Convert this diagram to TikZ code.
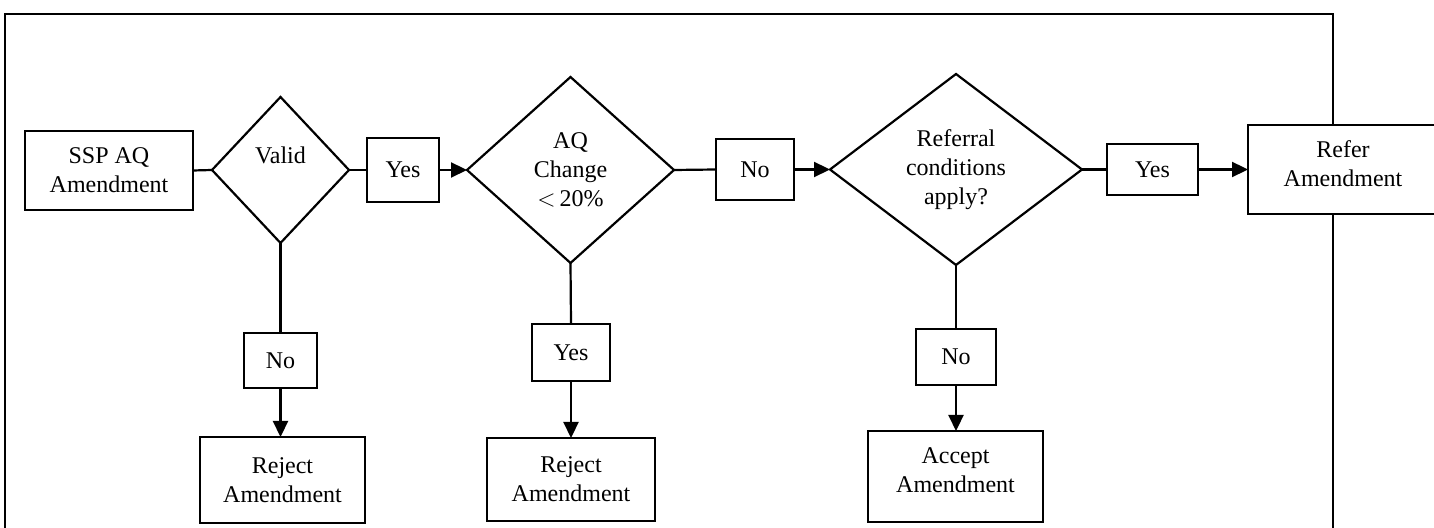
\documentclass[tikz,border=0pt]{standalone}
\usepackage{fontspec}
\setmainfont{Liberation Serif}
\usetikzlibrary{shapes.geometric,arrows.meta}
\tikzset{
  flow/.style={line width=1.1pt},
  arrow/.style={flow,-{Triangle[length=8pt,width=7.5pt]}},
  box/.style={draw,line width=1.1pt,fill=white,align=center,inner sep=0pt,outer sep=0pt},
  decision/.style={diamond,draw,line width=1.1pt,fill=white,align=center,inner sep=0pt,outer sep=0pt}
}
\begin{document}
\begin{tikzpicture}[x=0.5pt,y=-0.5pt,font=\fontsize{12pt}{14.5pt}\selectfont]
  \useasboundingbox (0,0) rectangle (1434,528);
  % outer frame
  \draw[flow] (5,540)--(5,14)--(1333,14)--(1333,540);
  % main row
  \node[box,minimum width=84pt,minimum height=39.5pt] (ssp) at (109,170.5) {SSP AQ\\Amendment};
  \node[decision,minimum width=68.5pt,minimum height=73pt,
        label={[yshift=7.5pt]center:Valid}] (valid) at (280.5,170) {};
  \node[box,minimum width=36pt,minimum height=32pt] (yes1) at (403,170) {Yes};
  \node[decision,minimum width=103.5pt,minimum height=93pt] (aq) at (570.5,170) {AQ\\Change\\$<$\,20\%};
  \node[box,minimum width=39pt,minimum height=30.5pt] (no1) at (755,169.5) {No};
  \node[decision,minimum width=126pt,minimum height=95.5pt] (ref) at (956,169.5) {Referral\\conditions\\apply?};
  \node[box,minimum width=45.5pt,minimum height=25.5pt] (yes3) at (1152.5,169.5) {Yes};
  \node[box,minimum width=95pt,minimum height=44.5pt,
        label={[yshift=3pt,align=center]center:Refer\\Amendment}] (refer) at (1343,169.5) {};
  % lower branches
  \node[box,minimum width=36.5pt,minimum height=27.5pt] (no2) at (280.5,360.5) {No};
  \node[box,minimum width=82.5pt,minimum height=43pt] (rej1) at (282.5,480) {Reject\\Amendment};
  \node[box,minimum width=39pt,minimum height=28.5pt] (yes2) at (571,352.5) {Yes};
  \node[box,minimum width=84pt,minimum height=41.5pt] (rej2) at (571,479.5) {Reject\\Amendment};
  \node[box,minimum width=40pt,minimum height=28pt] (no3) at (956,357) {No};
  \node[box,minimum width=87.5pt,minimum height=45.5pt,
        label={[yshift=3pt,align=center]center:Accept\\Amendment}] (acc) at (955.5,476.5) {};
  % connectors
  \draw[flow] (ssp.east)--(valid.west);
  \draw[flow] (valid.east)--(yes1.west);
  \draw[arrow] (yes1.east)--(aq.west);
  \draw[flow] (aq.east)--(no1.west);
  \draw[arrow] (no1.east)--(ref.west);
  \draw[flow] (ref.east)--(yes3.west);
  \draw[arrow] (yes3.east)--(refer.west);
  \draw[flow] (valid.south)--(no2.north);
  \draw[arrow] (no2.south)--(rej1.north-|no2.south);
  \draw[flow] (aq.south)--(yes2.north);
  \draw[arrow] (yes2.south)--(rej2.north);
  \draw[flow] (ref.south)--(no3.north);
  \draw[arrow] (no3.south)--(acc.north-|no3.south);
\end{tikzpicture}
\end{document}
